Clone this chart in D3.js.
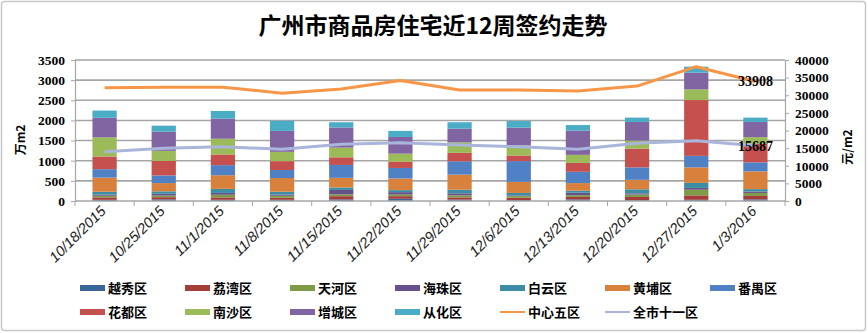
<!DOCTYPE html>
<html><head><meta charset="utf-8">
<script src="https://cdn.jsdelivr.net/npm/d3@7"></script>
<style>
html,body{margin:0;padding:0;background:#fff;}
svg{display:block;}
</style></head>
<body>
<svg id="chart" width="868" height="333"></svg>
<script>
const title = "广州市商品房住宅近12周签约走势";
const dates = ["10/18/2015","10/25/2015","11/1/2015","11/8/2015","11/15/2015","11/22/2015","11/29/2015","12/6/2015","12/13/2015","12/20/2015","12/27/2015","1/3/2016"];
const districts = ["越秀区","荔湾区","天河区","海珠区","白云区","黄埔区","番禺区","花都区","南沙区","增城区","从化区"];
const yuexiu   = [30,40,30,30,40,55,35,20,40,20,30,40];
const liwan    = [60,55,60,50,80,65,55,60,60,80,110,85];
const tianhe   = [40,40,65,50,45,40,50,40,45,60,140,75];
const haizhu   = [30,45,45,30,110,60,50,20,60,30,45,35];
const baiyun   = [70,60,100,70,60,50,90,60,50,100,125,60];
const huangpu  = [350,205,340,340,240,290,375,275,190,235,385,440];
const panyu    = [210,190,250,200,320,260,330,515,280,310,285,225];
const huadu    = [315,360,265,220,190,155,210,140,220,465,1385,460];
const nansha   = [475,250,390,230,240,200,260,250,200,200,265,165];
const zengcheng= [485,475,500,520,500,415,340,440,600,460,415,375];
const conghua  = [180,150,190,250,130,150,160,165,140,110,150,110];
const center5  = [32100,32300,32300,30600,31800,34200,31500,31500,31200,32600,38100,33908];
const city11   = [14000,14950,15400,14650,16100,16550,15900,15400,14650,16350,17100,15687];
const lineNames = ["中心五区","全市十一区"];
const leftTicks = [0,500,1000,1500,2000,2500,3000,3500];
const rightTicks = [0,5000,10000,15000,20000,25000,30000,35000,40000];

const seriesVals = [yuexiu,liwan,tianhe,haizhu,baiyun,huangpu,panyu,huadu,nansha,zengcheng,conghua];
const barColors = ["#3A6598","#A33E3B","#7E9B48","#67518A","#3D8DA5","#D7813D","#4F81C4","#C6504D","#9BBB59","#8165A3","#4BACC6"];
const lineColors = ["#F79646","#A9B5DB"];

const svg = d3.select("#chart");
svg.append("rect").attr("x",1.5).attr("y",1.5).attr("width",864).attr("height",329)
  .attr("fill","#fff").attr("stroke","#c8c8c8").attr("stroke-width",1.5).attr("rx",3);

const X0=75, X1=785, YT=60, YB=201;
const x = d3.scaleBand().domain(dates).range([X0,X1]).padding(0);
const yL = d3.scaleLinear().domain([0,3500]).range([YB,YT]);
const yR = d3.scaleLinear().domain([0,40000]).range([YB,YT]);
const barW = x.bandwidth()*0.41;

svg.append("g").selectAll("line").data(leftTicks.filter(d=>d>0)).join("line")
  .attr("x1",X0).attr("x2",X1).attr("y1",d=>yL(d)).attr("y2",d=>yL(d))
  .attr("stroke","#a6a6a6").attr("stroke-width",1.6);

const table = dates.map((d,i)=>{const o={date:d}; districts.forEach((k,j)=>o[k]=seriesVals[j][i]); return o;});
const stack = d3.stack().keys(districts)(table);
svg.append("g").selectAll("g").data(stack).join("g")
  .attr("fill",(d,i)=>barColors[i])
  .selectAll("rect").data(d=>d).join("rect")
  .attr("x",d=>x(d.data.date)+x.bandwidth()/2-barW/2)
  .attr("width",barW)
  .attr("y",d=>yL(d[1]))
  .attr("height",d=>yL(d[0])-yL(d[1]));

const axL = svg.append("g").attr("transform",`translate(${X0},0)`)
  .call(d3.axisLeft(yL).tickValues(leftTicks).tickSize(4).tickPadding(6).tickFormat(d3.format("d")));
const axR = svg.append("g").attr("transform",`translate(${X1},0)`)
  .call(d3.axisRight(yR).tickValues(rightTicks).tickSize(4).tickPadding(6).tickFormat(d3.format("d")));
[axL,axR].forEach(a=>{
  a.select(".domain").attr("stroke","#a6a6a6").attr("stroke-width",1.2);
  a.selectAll(".tick line").attr("stroke","#a6a6a6");
  a.selectAll("text").attr("font-family","'Liberation Serif','DejaVu Serif',serif")
    .attr("font-weight","bold").attr("font-size",13.5).attr("fill","#000");
});
const axX = svg.append("g").attr("transform",`translate(0,${YB})`);
axX.append("line").attr("x1",X0).attr("x2",X1).attr("stroke","#a6a6a6").attr("stroke-width",1.5);
axX.selectAll("line.tk").data(d3.range(dates.length+1)).join("line").attr("class","tk")
  .attr("x1",i=>X0+i*x.step()).attr("x2",i=>X0+i*x.step()).attr("y1",0).attr("y2",5)
  .attr("stroke","#a6a6a6");
axX.selectAll("text").data(dates).join("text")
  .attr("transform",d=>`translate(${x(d)+x.bandwidth()/2+2},${11}) rotate(-45)`)
  .attr("text-anchor","end").attr("font-family","'Liberation Sans',Arial,sans-serif")
  .attr("font-style","italic").attr("font-size",14.5).attr("fill","#222").text(d=>d);

const lineGen = d3.line().x((d,i)=>x(dates[i])+x.bandwidth()/2).y(d=>yR(d));
[center5,city11].forEach((vals,k)=>{
  svg.append("path").datum(vals).attr("d",lineGen).attr("fill","none")
    .attr("stroke",lineColors[k]).attr("stroke-width",3).attr("stroke-linejoin","round");
});
[center5,city11].forEach(vals=>{
  const i=vals.length-1;
  svg.append("text").attr("x",x(dates[i])+x.bandwidth()/2).attr("y",yR(vals[i])+5)
    .attr("text-anchor","middle").attr("font-family","'Liberation Serif',serif")
    .attr("font-weight","bold").attr("font-size",14).attr("fill","#000").text(vals[i]);
});

const cjk = "'Noto Sans CJK SC','Noto Sans',sans-serif";
svg.append("text").attr("x",433).attr("y",34).attr("text-anchor","middle")
  .attr("font-family",cjk).attr("font-weight","bold").attr("font-size",23).attr("fill","#000").text(title);
svg.append("text").attr("transform","translate(25,140) rotate(-90)").attr("text-anchor","middle")
  .attr("font-family",cjk).attr("font-weight","bold").attr("font-size",12).text("万m2");
svg.append("text").attr("transform","translate(852,147) rotate(-90)").attr("text-anchor","middle")
  .attr("font-family",cjk).attr("font-weight","bold").attr("font-size",12).text("元/m2");

const legendItems = districts.map((d,i)=>({name:d,color:barColors[i],type:"rect"}))
  .concat(lineNames.map((d,i)=>({name:d,color:lineColors[i],type:"line"})));
const lg = svg.append("g");
const item = lg.selectAll("g").data(legendItems).join("g")
  .attr("transform",(d,i)=>`translate(${80+(i%7)*105},${i<7?288:312})`);
item.filter(d=>d.type==="rect").append("rect").attr("x",0).attr("y",-3).attr("width",25).attr("height",6).attr("fill",d=>d.color);
item.filter(d=>d.type==="line").append("line").attr("x1",0).attr("x2",25).attr("y1",0).attr("y2",0)
  .attr("stroke",d=>d.color).attr("stroke-width",2);
item.append("text").attr("x",28).attr("y",5).attr("font-family",cjk).attr("font-weight","bold")
  .attr("font-size",13).attr("fill","#000").text(d=>d.name);
</script>
</body></html>
